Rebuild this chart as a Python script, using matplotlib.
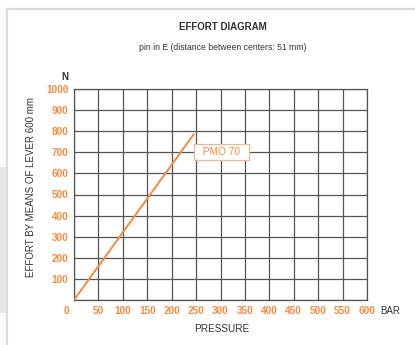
import matplotlib
matplotlib.use("Agg")
import matplotlib.pyplot as plt
import matplotlib.transforms as mtransforms
from matplotlib.patches import Rectangle

# pressure (bar) vs effort (N) for PMO 70
pressure = [0, 245]
effort = [0, 785]
x_ticks = list(range(0, 650, 50))
y_ticks = list(range(0, 1100, 100))

orange = "#f58a3c"
dark = "#333333"
plt.rcParams['font.family'] = ['Liberation Sans', 'DejaVu Sans']

fig = plt.figure(figsize=(4.15, 3.45), dpi=100)

# page frame / background bits
fig.patches.append(Rectangle((0, 0), 1, 1, transform=fig.transFigure,
                             facecolor="white", edgecolor="none", zorder=-10))
fig.patches.append(Rectangle((0, 32 / 345), 7 / 415, 146 / 345, transform=fig.transFigure,
                             facecolor="#e6e6e6", edgecolor="none", zorder=-5))
fig.lines.append(plt.Line2D([7 / 415, 7 / 415], [0, 1 - 9 / 345], transform=fig.transFigure,
                            color="#dcdcdc", lw=1.6))
fig.lines.append(plt.Line2D([7 / 415, 1], [1 - 9 / 345, 1 - 9 / 345], transform=fig.transFigure,
                            color="#dcdcdc", lw=1.6))

ax = fig.add_axes([74 / 415, 45 / 345, 293 / 415, 211 / 345])
ax.plot(pressure, effort, color=orange, lw=1.4, zorder=3)

ax.set_xlim(0, 600)
ax.set_ylim(0, 1000)
ax.set_xticks(x_ticks)
ax.set_yticks(y_ticks)
ax.set_xticklabels([str(v) for v in x_ticks])
ax.set_yticklabels([""] + [str(v) for v in y_ticks[1:]])
ax.grid(True, color="#555555", lw=0.9)
ax.tick_params(length=0, labelsize=7.2, labelcolor=orange)
ax.tick_params(axis="x", pad=4.5)
ax.tick_params(axis="y", pad=4)
for lab in ax.get_xticklabels() + ax.get_yticklabels():
    lab.set_fontweight("bold")
# origin label sits left of the corner
off = mtransforms.ScaledTranslation(-8 / 100, 0, fig.dpi_scale_trans)
first = ax.get_xticklabels()[0]
first.set_transform(first.get_transform() + off)
for s in ax.spines.values():
    s.set_color("#555555")
    s.set_linewidth(0.9)

ax.text(302, 703, "  PMO 70  ", color=orange, fontsize=7.3, ha="center", va="center",
        bbox=dict(boxstyle="square,pad=0.3", fc="white", ec="#f8b48a", lw=0.9), zorder=4)

fig.text(223 / 415, 1 - 27 / 345, "EFFORT DIAGRAM", ha="center", va="center",
         fontsize=7.0, fontweight="bold", color=dark)
fig.text(223 / 415, 1 - 48 / 345, "pin in E (distance between centers: 51 mm)", ha="center",
         va="center", fontsize=6.2, color=dark)
fig.text(65 / 415, 1 - 77 / 345, "N", ha="center", va="center", fontsize=7,
         fontweight="bold", color=dark)
fig.text(390 / 415, 1 - 311 / 345, "BAR", ha="center", va="center", fontsize=7, color=dark)
fig.text(222 / 415, 1 - 329 / 345, "PRESSURE", ha="center", va="center", fontsize=7.2, color=dark)
fig.text(31 / 415, 1 - 187 / 345, "EFFORT BY MEANS OF LEVER 600 mm", ha="center", va="center",
         rotation=90, fontsize=7, color=dark)

fig.savefig("out.png", dpi=100)
